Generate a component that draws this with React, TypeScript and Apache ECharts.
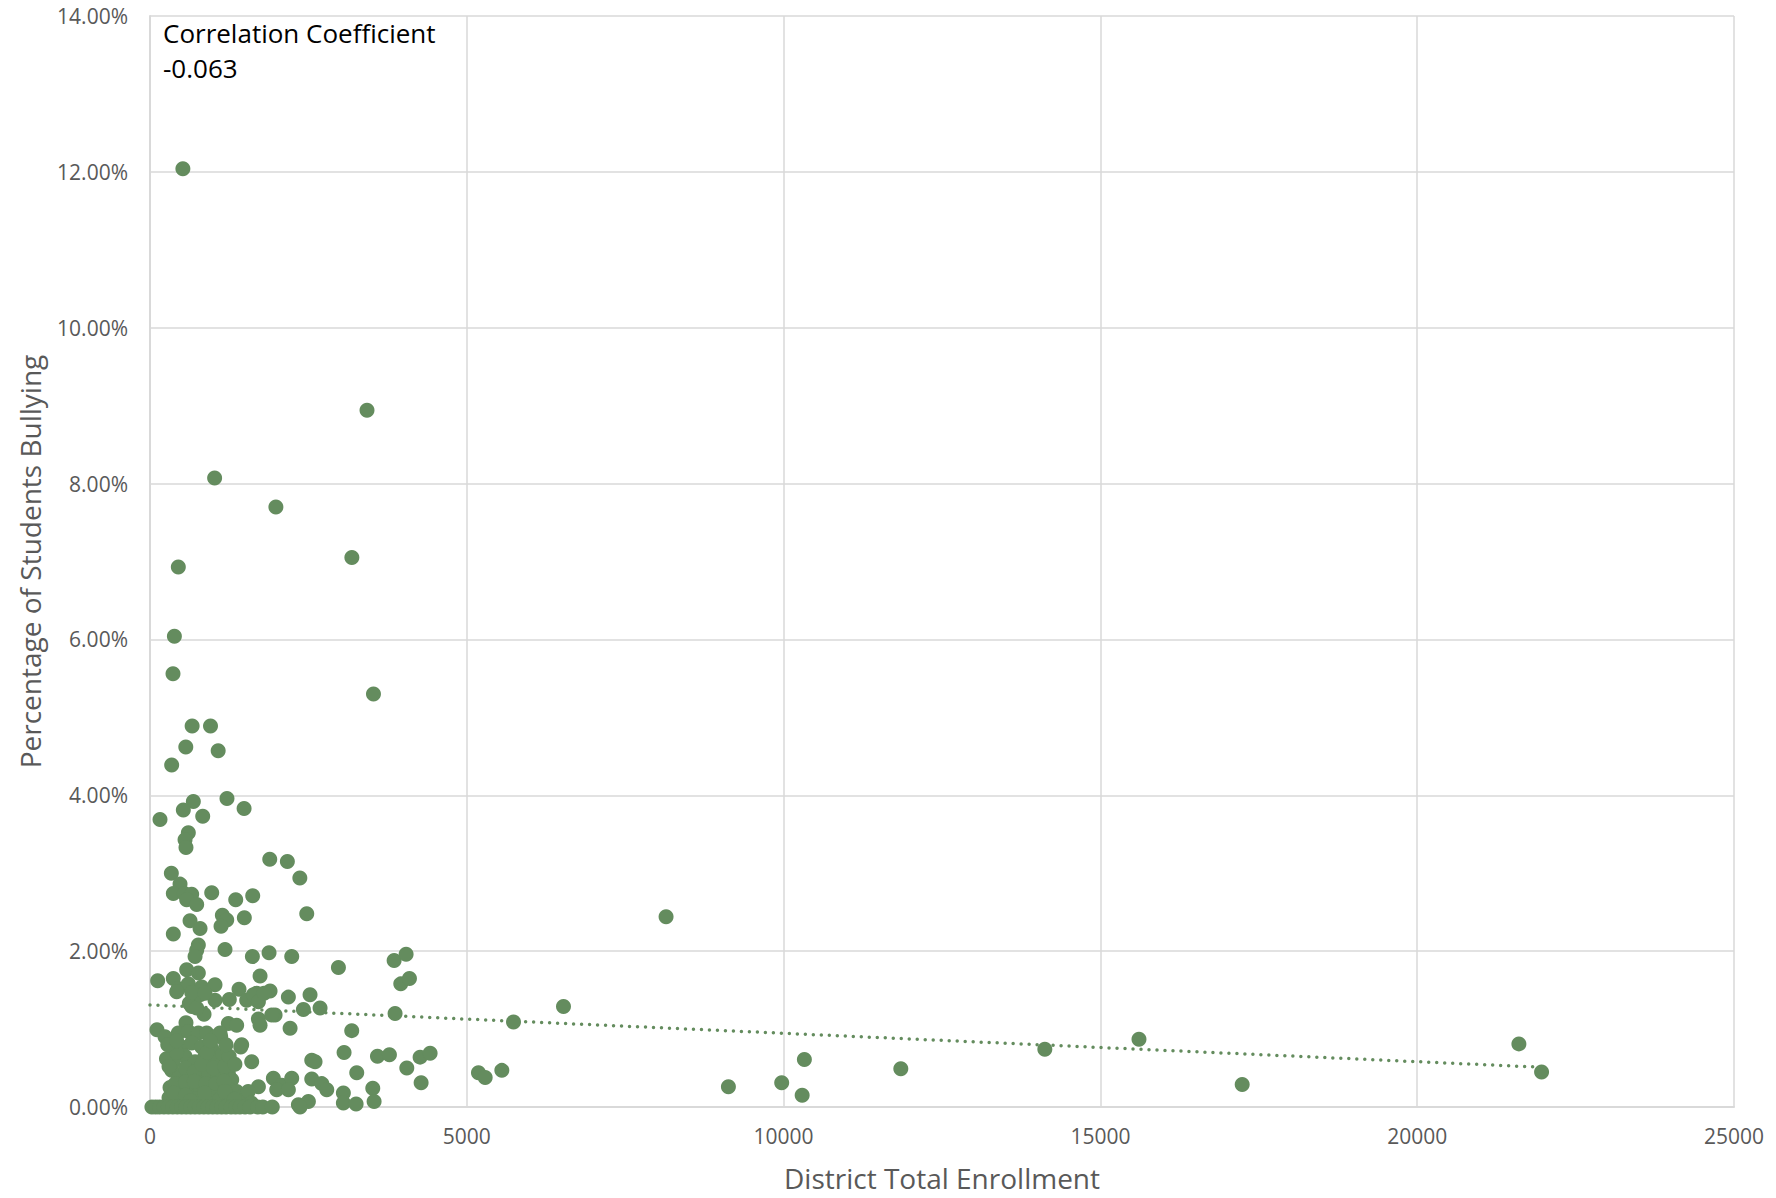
import React, { useEffect, useRef } from "react";
import * as echarts from "echarts";

// ---- Data (enrollment, % of students bullying) ----
const xTickValues = [0, 5000, 10000, 15000, 20000, 25000];
const yTickValues = [0, 2, 4, 6, 8, 10, 12, 14];

const highRatePoints: [number, number][] = [
  [519, 12.04], [3425, 8.94], [1020, 8.07], [1987, 7.7], [3186, 7.05], [447, 6.93],
  [385, 6.04], [363, 5.56], [3527, 5.3], [665, 4.89], [955, 4.89], [565, 4.62],
  [1076, 4.57], [342, 4.39], [1215, 3.96], [684, 3.92], [1485, 3.83], [526, 3.81],
  [832, 3.73], [158, 3.69], [605, 3.52], [553, 3.43], [568, 3.33], [1890, 3.18],
  [2168, 3.15], [2365, 2.94], [337, 3.0], [474, 2.86], [368, 2.74], [542, 2.74],
  [658, 2.73], [579, 2.66], [737, 2.6], [974, 2.75], [1353, 2.66], [1621, 2.71],
  [2474, 2.48], [8145, 2.44], [632, 2.39], [790, 2.29], [1142, 2.46], [1211, 2.4],
  [1121, 2.32], [1489, 2.43], [368, 2.22], [763, 2.08], [737, 2.01],
];

const midRatePoints: [number, number][] = [
  [711, 1.93], [1184, 2.02], [1616, 1.93], [1879, 1.98], [2237, 1.93], [121, 1.62],
  [368, 1.65], [579, 1.76], [763, 1.72], [1737, 1.68], [447, 1.52], [605, 1.58],
  [816, 1.54], [1026, 1.57], [1405, 1.51], [1684, 1.46], [1895, 1.49], [2184, 1.41],
  [2526, 1.44], [2421, 1.25], [2684, 1.27], [2974, 1.79], [3853, 1.88], [4042, 1.96],
  [3958, 1.58], [4095, 1.65], [3868, 1.2], [3184, 0.98], [6526, 1.29], [5737, 1.09],
  [658, 1.29], [853, 1.19], [568, 1.08], [110, 0.99], [237, 0.9], [1237, 1.07],
  [1368, 1.05], [1711, 1.13], [1737, 1.05], [1974, 1.18], [2211, 1.01], [1116, 0.9],
  [1526, 1.37], [1632, 1.44], [1711, 1.35], [1800, 1.46], [621, 1.33], [737, 1.27],
  [1252, 1.38], [1026, 1.37], [790, 1.44], [421, 1.48], [658, 1.47], [868, 1.46],
  [1921, 1.18], [447, 0.95], [605, 0.97], [763, 0.95], [895, 0.95], [1026, 0.9],
  [1105, 0.95],
];

const lowRatePoints: [number, number][] = [
  [500, 0.77], [658, 0.82], [816, 0.77], [974, 0.75], [553, 0.65], [711, 0.58],
  [868, 0.65], [1026, 0.6], [368, 0.58], [342, 0.47], [1447, 0.8], [1605, 0.58],
  [1432, 0.77], [447, 0.37], [605, 0.41], [763, 0.37], [921, 0.43], [1079, 0.39],
  [1237, 0.43], [1290, 0.35], [316, 0.25], [474, 0.25], [632, 0.22], [789, 0.26],
  [947, 0.24], [1105, 0.25], [1263, 0.22], [1368, 0.2], [1711, 0.26], [1947, 0.37],
  [2080, 0.28], [2237, 0.37], [2000, 0.22], [2184, 0.22], [2553, 0.6], [2553, 0.36],
  [447, 0.13], [711, 0.11], [974, 0.14], [1237, 0.12], [1447, 0.13], [2342, 0.03],
  [2500, 0.07], [3063, 0.7], [3590, 0.65], [3779, 0.67], [2605, 0.58], [4053, 0.5],
  [4263, 0.64], [4421, 0.69], [3263, 0.44], [4279, 0.31], [2711, 0.3], [2790, 0.22],
  [3052, 0.18], [3516, 0.24], [3052, 0.05], [3253, 0.04], [3537, 0.07], [5184, 0.44],
  [5290, 0.38], [5553, 0.47],
  [260, 0.62], [300, 0.52], [420, 0.7], [560, 0.5], [700, 0.45], [820, 0.55],
  [900, 0.7], [1000, 0.5], [1150, 0.68], [1180, 0.52], [400, 0.3], [560, 0.32],
  [700, 0.33], [880, 0.3], [1040, 0.3], [1170, 0.33], [300, 0.12], [380, 0.18],
  [560, 0.15], [640, 0.08], [860, 0.18], [1100, 0.1], [1180, 0.2], [1330, 0.1],
  [1550, 0.2], [1600, 0.05], [1250, 0.65], [1340, 0.55], [950, 0.85], [1200, 0.8],
  [280, 0.8], [420, 0.85],
];

const largeDistrictPoints: [number, number][] = [
  [9129, 0.26], [9970, 0.31], [10293, 0.15], [10328, 0.61], [11850, 0.49],
  [14123, 0.74], [15609, 0.87], [17238, 0.29], [21605, 0.81], [21963, 0.45],
];

const zeroRatePoints: [number, number][] = [
  [30, 0], [90, 0], [150, 0], [220, 0], [290, 0], [360, 0], [430, 0], [500, 0],
  [570, 0], [640, 0], [710, 0], [780, 0], [850, 0], [920, 0], [990, 0], [1060, 0],
  [1130, 0], [1200, 0], [1280, 0], [1350, 0], [1420, 0], [1500, 0], [1580, 0],
  [1700, 0], [1780, 0], [1930, 0], [2368, 0],
];

// Linear trendline endpoints
const trendline: [number, number][] = [
  [0, 1.31],
  [21963, 0.51],
];

const correlationTitle = "Correlation Coefficient";
const correlationValue = "-0.063";

const xAxisTitle = "District Total Enrollment";
const yAxisTitle = "Percentage of Students Bullying";

const FONT = '"Open Sans", "Noto Sans", sans-serif';
const GREEN = "#648c5e";
const GRID_GRAY = "#d9d9d9";
const LABEL_GRAY = "#595959";

export default function App() {
  const ref = useRef<HTMLDivElement>(null);

  useEffect(() => {
    document.body.style.margin = "0";
    const chart = echarts.init(ref.current!, null, { renderer: "svg" });
    const allPoints = [
      ...highRatePoints,
      ...midRatePoints,
      ...lowRatePoints,
      ...largeDistrictPoints,
      ...zeroRatePoints,
    ];
    chart.setOption({
      animation: false,
      backgroundColor: "#ffffff",
      grid: { left: 150, right: 42, top: 16, bottom: 91, containLabel: false },
      xAxis: {
        type: "value",
        min: xTickValues[0],
        max: xTickValues[xTickValues.length - 1],
        interval: 5000,
        name: xAxisTitle,
        nameLocation: "middle",
        nameGap: 57,
        nameTextStyle: { fontFamily: FONT, fontSize: 28, color: LABEL_GRAY },
        axisLine: { show: true, lineStyle: { color: GRID_GRAY, width: 2 } },
        axisTick: { show: false },
        axisLabel: {
          fontFamily: FONT,
          fontSize: 21,
          color: LABEL_GRAY,
          margin: 18,
          formatter: (v: number) => String(v),
        },
        splitLine: { show: true, lineStyle: { color: GRID_GRAY, width: 1.5 } },
      },
      yAxis: {
        type: "value",
        min: yTickValues[0],
        max: yTickValues[yTickValues.length - 1],
        interval: 2,
        name: yAxisTitle,
        nameLocation: "middle",
        nameRotate: 90,
        nameGap: 106,
        nameTextStyle: { fontFamily: FONT, fontSize: 28, color: LABEL_GRAY },
        axisLine: { show: true, lineStyle: { color: GRID_GRAY, width: 2 } },
        axisTick: { show: false },
        axisLabel: {
          fontFamily: FONT,
          fontSize: 21,
          color: LABEL_GRAY,
          margin: 22,
          formatter: (v: number) => v.toFixed(2) + "%",
        },
        splitLine: { show: true, lineStyle: { color: GRID_GRAY, width: 1.5 } },
      },
      graphic: [
        {
          type: "text",
          left: 163,
          top: 20,
          style: {
            text: correlationTitle,
            font: `26px ${FONT}`,
            fill: "#000000",
          },
        },
        {
          type: "text",
          left: 163,
          top: 55,
          style: {
            text: correlationValue,
            font: `26px ${FONT}`,
            fill: "#000000",
          },
        },
      ],
      series: [
        {
          type: "line",
          data: trendline,
          showSymbol: false,
          symbol: "none",
          z: 1,
          lineStyle: { color: GREEN, width: 3.5, type: [0, 8], cap: "round" },
          silent: true,
        },
        {
          type: "scatter",
          data: allPoints,
          symbol: "circle",
          symbolSize: 15,
          z: 2,
          itemStyle: { color: GREEN, opacity: 1 },
        },
      ],
    });
    return () => chart.dispose();
  }, []);

  return (
    <div
      ref={ref}
      style={{ position: "absolute", left: 0, top: 0, width: 1776, height: 1198 }}
    />
  );
}
